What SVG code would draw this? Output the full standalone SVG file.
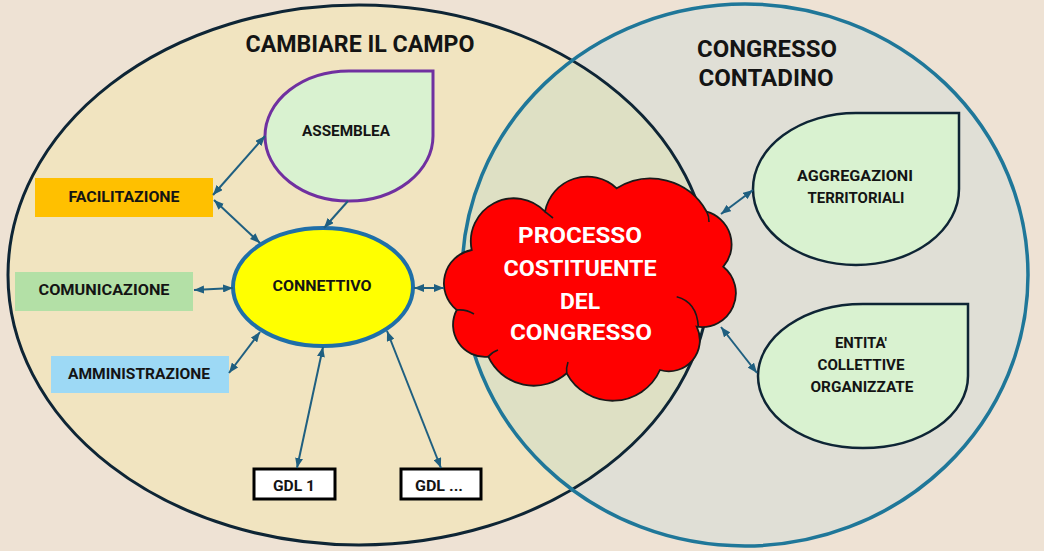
<svg xmlns="http://www.w3.org/2000/svg" width="1044" height="551" viewBox="0 0 1044 551">
<style>
  .t{font-family:Roboto,"Liberation Sans","DejaVu Sans",sans-serif;font-weight:bold;text-anchor:middle;fill:#141414}
  .title{font-size:24px}
  .lbl{font-size:15px}
  .cl{font-size:22px;fill:#ffffff}
  .drop{fill:#D9F2D0}
  .con{stroke:#1F5F80;stroke-width:2;fill:none}
  .dbl{marker-start:url(#ah);marker-end:url(#ah)}
  .sgl{marker-end:url(#ah)}
  .inner{fill:none;stroke:#1A1A1A;stroke-width:1.6}
</style>
<defs>
  <marker id="ah" viewBox="0 0 10 8" refX="10" refY="4" markerWidth="10" markerHeight="8" markerUnits="userSpaceOnUse" orient="auto-start-reverse">
    <path d="M0,0 L10,4 L0,8 Z" fill="#1F5F80"/>
  </marker>
  <clipPath id="leftClip"><ellipse cx="359" cy="275" rx="351" ry="270"/></clipPath>
</defs>
<rect x="0" y="0" width="1044" height="551" fill="#EEE2D4"/>

<g id="campo">
  <ellipse cx="359" cy="275" rx="351" ry="270" fill="#F1E4C0"/>
</g>
<g id="congresso">
  <ellipse cx="745" cy="275" rx="283" ry="271" fill="#E0DFD6"/>
  <ellipse cx="745" cy="275" rx="283" ry="271" fill="#DEE0C4" clip-path="url(#leftClip)"/>
  <ellipse cx="359" cy="275" rx="351" ry="270" fill="none" stroke="#0E2535" stroke-width="3"/>
  <ellipse cx="745" cy="275" rx="283" ry="271" fill="none" stroke="#1F7799" stroke-width="3.5"/>
</g>
<g id="titles">
  <text class="t title" x="360" y="52" textLength="229" lengthAdjust="spacingAndGlyphs">CAMBIARE IL CAMPO</text>
  <text class="t title" x="767" y="57" textLength="140" lengthAdjust="spacingAndGlyphs">CONGRESSO</text>
  <text class="t title" x="766" y="86" textLength="135" lengthAdjust="spacingAndGlyphs">CONTADINO</text>
</g>

<g id="assemblea">
  <path class="drop" d="M349,71 L433,71 L433,136 A84 65 0 0 1 349,201 A84 65 0 0 1 265,136 A84 65 0 0 1 349,71 Z" stroke="#7030A0" stroke-width="3"/>
  <text class="t lbl" x="346" y="136" textLength="88" lengthAdjust="spacingAndGlyphs">ASSEMBLEA</text>
</g>

<g id="connettivo">
  <ellipse cx="323" cy="287" rx="90" ry="59" fill="#FFFF00" stroke="#1F6FA8" stroke-width="4"/>
  <text class="t lbl" x="322" y="291" textLength="99" lengthAdjust="spacingAndGlyphs">CONNETTIVO</text>
</g>

<g id="facilitazione">
  <rect x="35" y="178" width="178" height="39" fill="#FFC000"/>
  <text class="t lbl" x="124" y="202" textLength="111" lengthAdjust="spacingAndGlyphs">FACILITAZIONE</text>
</g>
<g id="comunicazione">
  <rect x="15" y="272" width="178" height="39" fill="#B3E0A6"/>
  <text class="t lbl" x="104" y="295" textLength="131" lengthAdjust="spacingAndGlyphs">COMUNICAZIONE</text>
</g>
<g id="amministrazione">
  <rect x="51" y="356" width="178" height="37" fill="#9DD9F5"/>
  <text class="t lbl" x="139" y="379" textLength="142" lengthAdjust="spacingAndGlyphs">AMMINISTRAZIONE</text>
</g>

<g id="gdl1">
  <rect x="254" y="469" width="81" height="30" fill="#FFFFFF" stroke="#000000" stroke-width="3"/>
  <text class="t lbl" x="294" y="491" textLength="42" lengthAdjust="spacingAndGlyphs">GDL 1</text>
</g>
<g id="gdl2">
  <rect x="401" y="469" width="80" height="30" fill="#FFFFFF" stroke="#000000" stroke-width="3"/>
  <text class="t lbl" x="439" y="491" textLength="48" lengthAdjust="spacingAndGlyphs">GDL ...</text>
</g>

<g id="processo">
  <path d="M471.7,250 A43 43 0 0 1 545,211.7 A43 43 0 0 1 616.7,188.3 A64 64 0 0 1 706.7,211.7 A34 34 0 0 1 723.3,266.7 A34 34 0 0 1 696.7,326.7 A31 31 0 0 1 660,370 A52 52 0 0 1 566.7,373.3 A50 50 0 0 1 488.3,356.7 A32 32 0 0 1 456.7,310 A34 34 0 0 1 471.7,250 Z" fill="#FF0000" stroke="#1A1A1A" stroke-width="1.8"/>
  <path class="inner" d="M676.7,296.7 Q697,302 698.3,326.7"/>
  <path class="inner" d="M456.7,310 Q466,309 474,314"/>
  <path class="inner" d="M488.3,356.7 Q492,352 498,350"/>
  <path class="inner" d="M545,211.7 Q549,215 553,218"/>
  <path class="inner" d="M706.7,211.7 Q709,216 709,222"/>
  <path class="inner" d="M566.7,373.3 Q566,368 568,362"/>
  <text class="t cl" x="580" y="243" textLength="124" lengthAdjust="spacingAndGlyphs">PROCESSO</text>
  <text class="t cl" x="580" y="276" textLength="153" lengthAdjust="spacingAndGlyphs">COSTITUENTE</text>
  <text class="t cl" x="580" y="309" textLength="40" lengthAdjust="spacingAndGlyphs">DEL</text>
  <text class="t cl" x="581" y="340" textLength="142" lengthAdjust="spacingAndGlyphs">CONGRESSO</text>
</g>

<g id="aggregazioni">
  <path class="drop" d="M856,113 L959,113 L959,189 A103 76 0 0 1 856,265 A103 76 0 0 1 753,189 A103 76 0 0 1 856,113 Z" stroke="#0E2535" stroke-width="2.5"/>
  <text class="t lbl" x="855" y="181" textLength="116" lengthAdjust="spacingAndGlyphs">AGGREGAZIONI</text>
  <text class="t lbl" x="856" y="203" textLength="97" lengthAdjust="spacingAndGlyphs">TERRITORIALI</text>
</g>
<g id="entita">
  <path class="drop" d="M863,304 L968,304 L968,376 A105 72 0 0 1 863,448 A105 72 0 0 1 758,376 A105 72 0 0 1 863,304 Z" stroke="#0E2535" stroke-width="2.5"/>
  <text class="t lbl" x="861" y="348" textLength="52" lengthAdjust="spacingAndGlyphs">ENTITA'</text>
  <text class="t lbl" x="861" y="370" textLength="87" lengthAdjust="spacingAndGlyphs">COLLETTIVE</text>
  <text class="t lbl" x="862" y="392" textLength="103" lengthAdjust="spacingAndGlyphs">ORGANIZZATE</text>
</g>

<g id="connectors">
  <line class="con dbl" x1="213" y1="195" x2="265" y2="136"/>
  <line class="con dbl" x1="214" y1="200" x2="260" y2="243"/>
  <line class="con sgl" x1="348" y1="201" x2="324" y2="228"/>
  <line class="con dbl" x1="194" y1="290" x2="233" y2="288"/>
  <line class="con dbl" x1="229" y1="373" x2="260" y2="332"/>
  <line class="con dbl" x1="323" y1="347" x2="297" y2="468"/>
  <line class="con dbl" x1="387" y1="331" x2="441" y2="468"/>
  <line class="con dbl" x1="414" y1="288" x2="444" y2="288"/>
  <line class="con dbl" x1="721" y1="214" x2="753" y2="190"/>
  <line class="con dbl" x1="721" y1="327" x2="757" y2="373"/>
</g>
</svg>
